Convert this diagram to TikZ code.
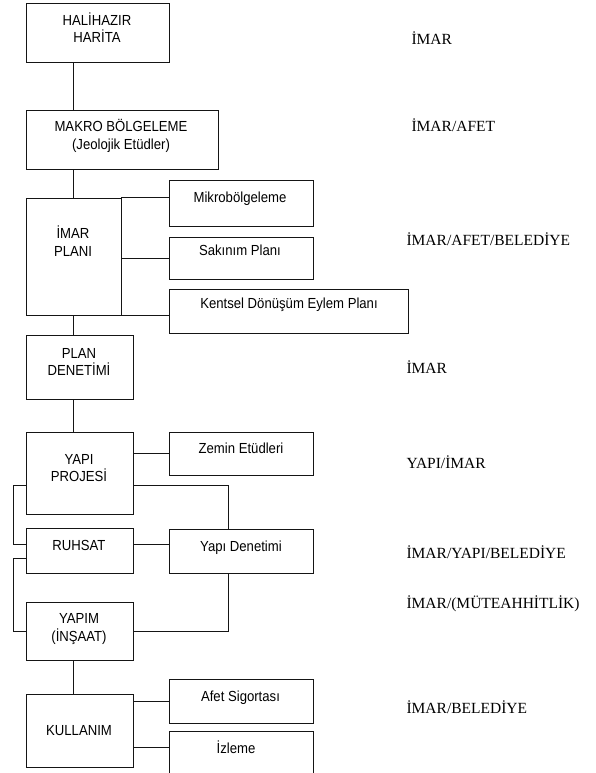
\documentclass[tikz,border=0pt]{standalone}
\usepackage{fontspec}
\setmainfont{Liberation Serif}
\setsansfont{Liberation Sans}
\newfontfamily\kutufont[FakeStretch=0.9]{Liberation Sans}
\definecolor{HLine}{HTML}{151515}
\usetikzlibrary{calc}

\begin{document}
\begin{tikzpicture}[x=1pt,y=-1pt,
    kutu/.style={draw=HLine,line width=0.9pt,rectangle,inner sep=0pt},
    yazi/.style={font=\kutufont\fontsize{14.6}{17.5}\selectfont,align=center,anchor=base},
    kurum/.style={font=\fontsize{15.5}{18}\selectfont,anchor=base west},
    bag/.style={draw=HLine,line width=0.9pt}]
  \useasboundingbox (0,0) rectangle (595,773);
  \clip (0,0) rectangle (595,773);
  % boxes: name / corners / text base (last line)
  \foreach \nm/\xa/\ya/\xb/\yb/\tx/\ty/\txt in {
      harita/26/3/169/62/97/42.8/{HALİHAZIR\\HARİTA},
      makro/26/110/218/169/121/149.5/{MAKRO BÖLGELEME\\(Jeolojik Etüdler)},
      imarplani/26/198/121/315/73/256/{İMAR\\PLANI},
      mikro/169/180/313/226/240/202.3/{Mikrobölgeleme},
      sakinim/169/237/313/279/240/255/{Sakınım Planı},
      kentsel/169/289/408/333/289/308.8/{Kentsel Dönüşüm Eylem Planı},
      plandenetimi/26/335/133/399/79/375.7/{PLAN\\DENETİMİ},
      yapiprojesi/26/432/133/514/79/481.5/{YAPI\\PROJESİ},
      zemin/169/432/313/475/241/453.3/{Zemin Etüdleri},
      ruhsat/26/528/133/573/79/550/{RUHSAT},
      yapidenetimi/169/529/313/573/241/551/{Yapı Denetimi},
      yapim/26/602/133/660/79/641/{YAPIM\\(İNŞAAT)},
      kullanim/26/694/133/767/79/735/{KULLANIM},
      afet/169/679/313/723/240.5/701.7/{Afet Sigortası},
      izleme/169/731/313/790/236/753.3/{İzleme}}{
    \node[kutu,minimum width={(\xb-\xa)*1pt},minimum height={(\yb-\ya)*1pt}]
      (\nm) at ({(\xa+\xb)/2},{(\ya+\yb)/2}) {};
    \node[yazi] (\nm-y) at (\tx,\ty) {\txt};
  }
  % main line
  \draw[bag] (harita.south -| imarplani.center) -- (makro.north -| imarplani.center);
  \draw[bag] (makro.south -| imarplani.center) -- (imarplani.north);
  \draw[bag] (imarplani.south) -- (plandenetimi.north -| imarplani.south);
  \draw[bag] (plandenetimi.south -| imarplani.south) -- (yapiprojesi.north -| imarplani.south);
  \draw[bag] (yapim.south -| imarplani.south) -- (kullanim.north -| imarplani.south);
  % side branches
  \draw[bag] (imarplani.north east) -- (imarplani.north east -| mikro.west);
  \draw[bag] (sakinim.west) -- (sakinim.west -| imarplani.east);
  \draw[bag] (imarplani.south east) -- (imarplani.south east -| kentsel.west);
  \draw[bag] (zemin.west) -- (zemin.west -| yapiprojesi.east);
  \coordinate (pj-sag) at ($(yapiprojesi.north east)!0.655!(yapiprojesi.south east)$);
  \coordinate (pj-sol) at (yapiprojesi.west |- pj-sag);
  \coordinate (rh-ust) at ($(ruhsat.north west)!0.36!(ruhsat.south west)$);
  \coordinate (rh-alt) at ($(ruhsat.north west)!0.67!(ruhsat.south west)$);
  \draw[bag] (pj-sag) -| ([xshift=-12.7pt]yapidenetimi.north);
  \draw[bag] (pj-sol) -- ++(-12.4,0) |- (rh-ust);
  \draw[bag] (rh-ust -| ruhsat.east) -- (rh-ust -| yapidenetimi.west);
  \draw[bag] (rh-alt) -- ++(-12.4,0) |- (yapim.west);
  \draw[bag] ([xshift=-12.7pt]yapidenetimi.south) |- (yapim.east);
  \draw[bag] (afet.west) -- (afet.west -| kullanim.east);
  \draw[bag] ([yshift=-17pt]izleme.north west) -- ([yshift=-17pt]izleme.north west -| kullanim.east);
  % responsible bodies
  \foreach \xx/\yy/\ad [count=\i] in {
      408/44.3/{İMAR}, 408/131.7/{İMAR/AFET}, 403/245.7/{İMAR/AFET/BELEDİYE},
      403/373.3/{İMAR}, 403/468.3/{YAPI/İMAR}, 403/558.3/{İMAR/YAPI/BELEDİYE},
      403/608/{İMAR/(MÜTEAHHİTLİK)}, 403/713.3/{İMAR/BELEDİYE}}
    \node[kurum] (kurum\i) at (\xx,\yy) {\ad};
\end{tikzpicture}
\end{document}
